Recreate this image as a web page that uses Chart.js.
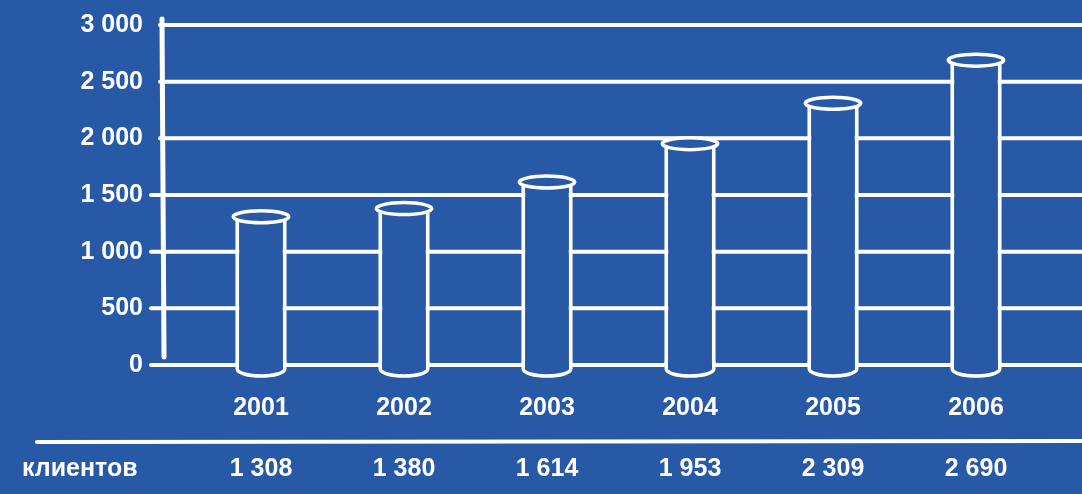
<!DOCTYPE html>
<html>
<head>
    <title>Клиенты по годам</title>
    <script src="https://cdn.jsdelivr.net/npm/chart.js"></script>
    <style>
        html, body { margin: 0; padding: 0; background: #2859a6; }
        canvas { display: block; }
    </style>
</head>
<body>
<canvas id="clientsChart" width="1082" height="494"></canvas>

<script>
    const years = ['2001', '2002', '2003', '2004', '2005', '2006'];
    const clients = [1308, 1380, 1614, 1953, 2309, 2690];
    const rowLabel = 'клиентов';
    const yTicks = [0, 500, 1000, 1500, 2000, 2500, 3000];

    const bg = '#2859a6';
    const white = '#ffffff';
    const font = "'Liberation Sans', Arial, sans-serif";

    // 1308 -> "1 308"
    const fmt = v => String(v).replace(/\B(?=(\d{3})+(?!\d))/g, ' ');

    // hand-drawn look: grid, axis, caps of the cylinders, the table row
    const sketch = {
        id: 'sketch',
        beforeDatasetsDraw(chart) {
            const ctx = chart.ctx;
            const y = chart.scales.y;
            ctx.save();
            ctx.strokeStyle = white;
            ctx.lineCap = 'round';
            ctx.lineWidth = 4;
            yTicks.forEach(t => {
                const py = y.getPixelForValue(t);
                ctx.beginPath();
                ctx.moveTo(t >= 2000 ? 160 : 151, py);
                ctx.lineTo(1082, py);
                ctx.stroke();
            });
            // vertical axis
            ctx.lineWidth = 5;
            ctx.beginPath();
            ctx.moveTo(162, y.getPixelForValue(3000) - 6);
            ctx.lineTo(164, y.getPixelForValue(0) - 8);
            ctx.stroke();
            // separator above the table row
            ctx.lineWidth = 4;
            ctx.beginPath();
            ctx.moveTo(37, 442);
            ctx.lineTo(1082, 441);
            ctx.stroke();
            ctx.restore();
        },
        afterDatasetsDraw(chart) {
            const ctx = chart.ctx;
            const meta = chart.getDatasetMeta(0);
            ctx.save();
            ctx.strokeStyle = white;
            ctx.lineWidth = 3.5;
            ctx.lineCap = 'round';
            meta.data.forEach(bar => {
                const hw = bar.width / 2;
                const x = bar.x;
                const base = bar.base;
                // rounded bottom below the zero line
                ctx.beginPath();
                ctx.moveTo(x - hw + 2, base - 3);
                ctx.lineTo(x - hw + 2, base + 4);
                ctx.ellipse(x, base + 4, hw - 2, 7, 0, Math.PI, 0, true);
                ctx.lineTo(x + hw - 2, base - 3);
                ctx.closePath();
                ctx.fillStyle = bg;
                ctx.fill();
                ctx.beginPath();
                ctx.moveTo(x - hw + 2, base - 3);
                ctx.lineTo(x - hw + 2, base + 4);
                ctx.ellipse(x, base + 4, hw - 2, 7, 0, Math.PI, 0, true);
                ctx.lineTo(x + hw - 2, base - 3);
                ctx.stroke();
                // top ellipse
                ctx.beginPath();
                ctx.ellipse(x, bar.y, hw + 2, 6, 0, 0, Math.PI * 2);
                ctx.fillStyle = bg;
                ctx.fill();
                ctx.stroke();
            });

            // table row under the axis
            ctx.fillStyle = white;
            ctx.font = 'bold 25px ' + font;
            ctx.textBaseline = 'middle';
            ctx.textAlign = 'left';
            ctx.fillText(rowLabel, 22, 469);
            ctx.textAlign = 'center';
            const x = chart.scales.x;
            clients.forEach((v, i) => {
                ctx.fillText(fmt(v), x.getPixelForValue(i), 469);
            });
            ctx.restore();
        }
    };

    const ctx = document.getElementById('clientsChart').getContext('2d');
    new Chart(ctx, {
        type: 'bar',
        data: {
            labels: years,
            datasets: [{
                label: rowLabel,
                data: clients,
                backgroundColor: bg,
                borderColor: white,
                borderWidth: { left: 4, right: 4, top: 0, bottom: 0 },
                borderSkipped: false,
                categoryPercentage: 1,
                barPercentage: 0.36
            }]
        },
        options: {
            responsive: false,
            devicePixelRatio: 1,
            animation: false,
            layout: {
                padding: { top: 25, right: 34.5, left: 0, bottom: 0 }
            },
            plugins: {
                legend: { display: false },
                tooltip: { enabled: false }
            },
            scales: {
                x: {
                    grid: { display: false, drawTicks: false },
                    border: { display: false },
                    ticks: {
                        color: white,
                        padding: 28,
                        font: { family: font, size: 25, weight: 'bold' }
                    },
                    afterFit(scale) { scale.height = 129; }
                },
                y: {
                    min: 0,
                    max: 3000,
                    grid: { display: false, drawTicks: false },
                    border: { display: false },
                    ticks: {
                        stepSize: 500,
                        color: white,
                        padding: 46.5,
                        font: { family: font, size: 25, weight: 'bold' },
                        callback: v => fmt(v)
                    },
                    afterFit(scale) {
                        scale.width = 189.5;
                        scale.paddingTop = 14;
                        scale.paddingBottom = 14;
                    }
                }
            }
        },
        plugins: [sketch]
    });
</script>
</body>
</html>
